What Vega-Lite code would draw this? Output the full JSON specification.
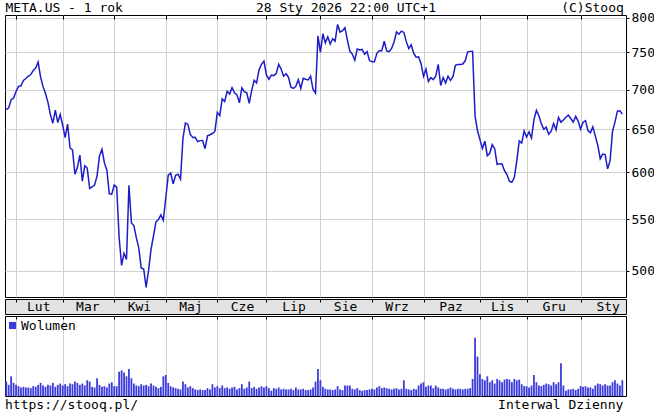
{
"$schema": "https://vega.github.io/schema/vega-lite/v6.json",
"padding": {"left": 2, "top": 0, "right": 0, "bottom": 0},
"background": "white",
"config": {
  "font": "DejaVu Sans Mono",
  "view": {"stroke": "#000000", "strokeWidth": 1},
  "concat": {"spacing": 0},
  "title": {"font": "DejaVu Sans Mono", "fontSize": 13, "fontWeight": "normal", "color": "#000000"},
  "axis": {"labelFont": "DejaVu Sans Mono", "labelFontSize": 13, "labelColor": "#000000", "tickColor": "#000000", "gridColor": "#d0d0d0", "gridWidth": 1, "domain": false, "minExtent": 0, "titleFont": "DejaVu Sans Mono", "titleFontSize": 13, "titleFontWeight": "normal", "titleColor": "#000000"},
  "legend": {"labelFont": "DejaVu Sans Mono", "labelFontSize": 13, "labelColor": "#000000"}
},
"datasets": {
"months": [{"m":"Lut","d":"2025-02-14"},{"m":"Mar","d":"2025-03-17"},{"m":"Kwi","d":"2025-04-15"},{"m":"Maj","d":"2025-05-15"},{"m":"Cze","d":"2025-06-16"},{"m":"Lip","d":"2025-07-17"},{"m":"Sie","d":"2025-08-15"},{"m":"Wrz","d":"2025-09-16"},{"m":"Paz","d":"2025-10-16"},{"m":"Lis","d":"2025-11-14"},{"m":"Gru","d":"2025-12-16"},{"m":"Sty","d":"2026-01-20"}],
"prices": [
{"d":"2025-01-28","c":674.33,"v":22},{"d":"2025-01-29","c":676.49,"v":17},{"d":"2025-01-30","c":687.00,"v":30},{"d":"2025-01-31","c":689.18,"v":20},
{"d":"2025-02-03","c":697.46,"v":17},{"d":"2025-02-04","c":704.19,"v":15},{"d":"2025-02-05","c":704.87,"v":13},{"d":"2025-02-06","c":711.99,"v":14},{"d":"2025-02-07","c":714.52,"v":13},{"d":"2025-02-10","c":717.40,"v":13},{"d":"2025-02-11","c":719.80,"v":12},{"d":"2025-02-12","c":725.38,"v":15},{"d":"2025-02-13","c":728.56,"v":14},{"d":"2025-02-14","c":736.67,"v":17},{"d":"2025-02-18","c":716.37,"v":20},{"d":"2025-02-19","c":703.77,"v":16},{"d":"2025-02-20","c":694.84,"v":14},{"d":"2025-02-21","c":683.55,"v":17},{"d":"2025-02-24","c":668.13,"v":16},{"d":"2025-02-25","c":657.50,"v":20},{"d":"2025-02-26","c":673.70,"v":14},{"d":"2025-02-27","c":658.24,"v":17},{"d":"2025-02-28","c":668.20,"v":19},
{"d":"2025-03-03","c":655.05,"v":16},{"d":"2025-03-04","c":640.00,"v":18},{"d":"2025-03-05","c":656.47,"v":15},{"d":"2025-03-06","c":627.93,"v":19},{"d":"2025-03-07","c":625.66,"v":18},{"d":"2025-03-10","c":597.99,"v":22},{"d":"2025-03-11","c":605.71,"v":20},{"d":"2025-03-12","c":619.56,"v":17},{"d":"2025-03-13","c":590.45,"v":19},{"d":"2025-03-14","c":607.60,"v":16},{"d":"2025-03-17","c":604.90,"v":24},{"d":"2025-03-18","c":582.36,"v":22},{"d":"2025-03-19","c":584.06,"v":14},{"d":"2025-03-20","c":586.00,"v":13},{"d":"2025-03-21","c":596.25,"v":27},{"d":"2025-03-24","c":618.85,"v":17},{"d":"2025-03-25","c":626.31,"v":14},{"d":"2025-03-26","c":610.98,"v":15},{"d":"2025-03-27","c":602.58,"v":13},{"d":"2025-03-28","c":576.74,"v":19},{"d":"2025-03-31","c":576.36,"v":21},
{"d":"2025-04-01","c":586.00,"v":15},{"d":"2025-04-02","c":583.93,"v":15},{"d":"2025-04-03","c":531.62,"v":37},{"d":"2025-04-04","c":504.73,"v":39},{"d":"2025-04-07","c":516.25,"v":36},{"d":"2025-04-08","c":510.45,"v":30},{"d":"2025-04-09","c":585.77,"v":41},{"d":"2025-04-10","c":546.29,"v":27},{"d":"2025-04-11","c":543.57,"v":19},{"d":"2025-04-14","c":531.48,"v":16},{"d":"2025-04-15","c":521.52,"v":15},{"d":"2025-04-16","c":502.31,"v":18},{"d":"2025-04-17","c":501.48,"v":16},{"d":"2025-04-21","c":484.66,"v":17},{"d":"2025-04-22","c":500.28,"v":15},{"d":"2025-04-23","c":520.27,"v":19},{"d":"2025-04-24","c":533.15,"v":16},{"d":"2025-04-25","c":547.27,"v":14},{"d":"2025-04-28","c":549.74,"v":12},{"d":"2025-04-29","c":554.44,"v":14},{"d":"2025-04-30","c":549.00,"v":30},
{"d":"2025-05-01","c":572.21,"v":32},{"d":"2025-05-02","c":597.02,"v":20},{"d":"2025-05-05","c":599.27,"v":15},{"d":"2025-05-06","c":587.31,"v":13},{"d":"2025-05-07","c":596.81,"v":12},{"d":"2025-05-08","c":598.01,"v":11},{"d":"2025-05-09","c":592.49,"v":10},{"d":"2025-05-12","c":639.43,"v":22},{"d":"2025-05-13","c":657.75,"v":18},{"d":"2025-05-14","c":656.03,"v":13},{"d":"2025-05-15","c":643.88,"v":15},{"d":"2025-05-16","c":640.34,"v":12},{"d":"2025-05-19","c":640.43,"v":10},{"d":"2025-05-20","c":635.50,"v":9},{"d":"2025-05-21","c":636.57,"v":10},{"d":"2025-05-22","c":636.80,"v":9},{"d":"2025-05-23","c":627.06,"v":9},{"d":"2025-05-27","c":642.32,"v":12},{"d":"2025-05-28","c":643.58,"v":10},{"d":"2025-05-29","c":645.05,"v":18},{"d":"2025-05-30","c":647.49,"v":13},
{"d":"2025-06-02","c":670.90,"v":15},{"d":"2025-06-03","c":666.85,"v":12},{"d":"2025-06-04","c":687.95,"v":16},{"d":"2025-06-05","c":684.62,"v":12},{"d":"2025-06-06","c":697.71,"v":13},{"d":"2025-06-09","c":694.14,"v":11},{"d":"2025-06-10","c":702.40,"v":13},{"d":"2025-06-11","c":695.80,"v":14},{"d":"2025-06-12","c":693.10,"v":10},{"d":"2025-06-13","c":682.87,"v":12},{"d":"2025-06-16","c":702.12,"v":18},{"d":"2025-06-17","c":697.23,"v":11},{"d":"2025-06-18","c":695.77,"v":13},{"d":"2025-06-20","c":682.35,"v":22},{"d":"2025-06-23","c":698.53,"v":12},{"d":"2025-06-24","c":712.20,"v":14},{"d":"2025-06-25","c":708.68,"v":11},{"d":"2025-06-26","c":726.09,"v":13},{"d":"2025-06-27","c":733.63,"v":15},{"d":"2025-06-30","c":738.09,"v":13},
{"d":"2025-07-01","c":719.22,"v":15},{"d":"2025-07-02","c":713.57,"v":12},{"d":"2025-07-03","c":719.01,"v":8},{"d":"2025-07-07","c":718.35,"v":12},{"d":"2025-07-08","c":720.92,"v":11},{"d":"2025-07-09","c":733.50,"v":13},{"d":"2025-07-10","c":727.20,"v":10},{"d":"2025-07-11","c":717.51,"v":11},{"d":"2025-07-14","c":720.85,"v":10},{"d":"2025-07-15","c":716.00,"v":10},{"d":"2025-07-16","c":702.91,"v":11},{"d":"2025-07-17","c":701.41,"v":9},{"d":"2025-07-18","c":704.28,"v":13},{"d":"2025-07-21","c":712.97,"v":10},{"d":"2025-07-22","c":701.35,"v":10},{"d":"2025-07-23","c":714.80,"v":11},{"d":"2025-07-24","c":713.58,"v":9},{"d":"2025-07-25","c":712.68,"v":9},{"d":"2025-07-28","c":717.63,"v":10},{"d":"2025-07-29","c":700.00,"v":13},{"d":"2025-07-30","c":695.21,"v":22},{"d":"2025-07-31","c":773.44,"v":41},
{"d":"2025-08-01","c":750.01,"v":24},{"d":"2025-08-04","c":776.37,"v":14},{"d":"2025-08-05","c":763.46,"v":11},{"d":"2025-08-06","c":771.99,"v":10},{"d":"2025-08-07","c":761.83,"v":10},{"d":"2025-08-08","c":769.30,"v":9},{"d":"2025-08-11","c":765.87,"v":10},{"d":"2025-08-12","c":790.00,"v":15},{"d":"2025-08-13","c":778.92,"v":10},{"d":"2025-08-14","c":780.97,"v":9},{"d":"2025-08-15","c":785.23,"v":16},{"d":"2025-08-18","c":767.37,"v":16},{"d":"2025-08-19","c":751.48,"v":16},{"d":"2025-08-20","c":747.72,"v":11},{"d":"2025-08-21","c":739.10,"v":10},{"d":"2025-08-22","c":754.79,"v":12},{"d":"2025-08-25","c":753.30,"v":9},{"d":"2025-08-26","c":754.10,"v":8},{"d":"2025-08-27","c":747.38,"v":9},{"d":"2025-08-28","c":751.11,"v":9},{"d":"2025-08-29","c":738.70,"v":10},
{"d":"2025-09-02","c":737.05,"v":11},{"d":"2025-09-03","c":737.10,"v":10},{"d":"2025-09-04","c":748.65,"v":13},{"d":"2025-09-05","c":752.45,"v":15},{"d":"2025-09-08","c":752.30,"v":12},{"d":"2025-09-09","c":765.70,"v":13},{"d":"2025-09-10","c":751.98,"v":12},{"d":"2025-09-11","c":751.00,"v":11},{"d":"2025-09-12","c":755.59,"v":10},{"d":"2025-09-15","c":764.70,"v":11},{"d":"2025-09-16","c":779.00,"v":12},{"d":"2025-09-17","c":775.72,"v":10},{"d":"2025-09-18","c":780.25,"v":11},{"d":"2025-09-19","c":778.38,"v":24},{"d":"2025-09-22","c":765.16,"v":11},{"d":"2025-09-23","c":755.40,"v":10},{"d":"2025-09-24","c":760.66,"v":9},{"d":"2025-09-25","c":748.91,"v":11},{"d":"2025-09-26","c":743.40,"v":10},{"d":"2025-09-29","c":743.85,"v":16},{"d":"2025-09-30","c":734.38,"v":19},
{"d":"2025-10-01","c":717.34,"v":21},{"d":"2025-10-02","c":727.05,"v":14},{"d":"2025-10-03","c":710.56,"v":16},{"d":"2025-10-06","c":715.66,"v":16},{"d":"2025-10-07","c":713.08,"v":12},{"d":"2025-10-08","c":717.84,"v":16},{"d":"2025-10-09","c":733.51,"v":13},{"d":"2025-10-10","c":705.30,"v":11},{"d":"2025-10-13","c":715.70,"v":11},{"d":"2025-10-14","c":708.65,"v":10},{"d":"2025-10-15","c":717.55,"v":11},{"d":"2025-10-16","c":712.07,"v":13},{"d":"2025-10-17","c":716.91,"v":11},{"d":"2025-10-20","c":732.17,"v":10},{"d":"2025-10-21","c":733.27,"v":11},{"d":"2025-10-22","c":733.41,"v":11},{"d":"2025-10-23","c":734.00,"v":10},{"d":"2025-10-24","c":738.36,"v":11},{"d":"2025-10-27","c":750.82,"v":11},{"d":"2025-10-28","c":751.44,"v":12},{"d":"2025-10-29","c":751.67,"v":26},{"d":"2025-10-30","c":666.47,"v":89},{"d":"2025-10-31","c":648.35,"v":60},
{"d":"2025-11-03","c":637.71,"v":33},{"d":"2025-11-04","c":627.32,"v":26},{"d":"2025-11-05","c":635.95,"v":24},{"d":"2025-11-06","c":618.94,"v":30},{"d":"2025-11-07","c":621.71,"v":21},{"d":"2025-11-10","c":631.76,"v":24},{"d":"2025-11-11","c":627.08,"v":19},{"d":"2025-11-12","c":609.01,"v":26},{"d":"2025-11-13","c":609.89,"v":24},{"d":"2025-11-14","c":609.46,"v":21},{"d":"2025-11-17","c":602.01,"v":25},{"d":"2025-11-18","c":597.69,"v":26},{"d":"2025-11-19","c":590.32,"v":25},{"d":"2025-11-20","c":589.15,"v":21},{"d":"2025-11-21","c":594.25,"v":26},{"d":"2025-11-24","c":613.05,"v":24},{"d":"2025-11-25","c":636.22,"v":25},{"d":"2025-11-26","c":633.61,"v":18},{"d":"2025-11-28","c":647.95,"v":15},
{"d":"2025-12-01","c":640.87,"v":15},{"d":"2025-12-02","c":647.10,"v":13},{"d":"2025-12-03","c":639.60,"v":16},{"d":"2025-12-04","c":661.53,"v":32},{"d":"2025-12-05","c":673.42,"v":21},{"d":"2025-12-08","c":666.80,"v":16},{"d":"2025-12-09","c":656.96,"v":15},{"d":"2025-12-10","c":650.13,"v":17},{"d":"2025-12-11","c":652.71,"v":19},{"d":"2025-12-12","c":644.23,"v":18},{"d":"2025-12-15","c":647.51,"v":16},{"d":"2025-12-16","c":657.15,"v":21},{"d":"2025-12-17","c":649.50,"v":18},{"d":"2025-12-18","c":664.45,"v":21},{"d":"2025-12-19","c":658.77,"v":50},{"d":"2025-12-22","c":661.50,"v":16},{"d":"2025-12-23","c":664.94,"v":8},{"d":"2025-12-24","c":667.55,"v":10},{"d":"2025-12-26","c":663.29,"v":10},{"d":"2025-12-29","c":658.69,"v":11},{"d":"2025-12-30","c":665.95,"v":9},{"d":"2025-12-31","c":660.09,"v":11},
{"d":"2026-01-02","c":650.41,"v":15},{"d":"2026-01-05","c":658.79,"v":14},{"d":"2026-01-06","c":660.62,"v":15},{"d":"2026-01-07","c":648.69,"v":13},{"d":"2026-01-08","c":646.06,"v":13},{"d":"2026-01-09","c":653.06,"v":11},{"d":"2026-01-12","c":641.97,"v":16},{"d":"2026-01-13","c":631.09,"v":19},{"d":"2026-01-14","c":615.52,"v":18},{"d":"2026-01-15","c":620.80,"v":16},{"d":"2026-01-16","c":620.25,"v":18},{"d":"2026-01-20","c":604.12,"v":16},{"d":"2026-01-21","c":612.96,"v":16},{"d":"2026-01-22","c":647.63,"v":21},{"d":"2026-01-23","c":658.76,"v":24},{"d":"2026-01-26","c":672.36,"v":19},{"d":"2026-01-27","c":672.97,"v":16},{"d":"2026-01-28","c":668.73,"v":24}
]
},
"resolve": {"scale": {"x": "shared"}, "legend": {"color": "independent"}},
"vconcat": [
{
  "width": 621, "height": 282,
  "data": {"name": "prices"},
  "mark": {"type": "line", "color": "#1c1cc8", "strokeWidth": 1.5},
  "encoding": {
    "x": {"field": "d", "type": "ordinal", "scale": {"type": "point", "padding": 3.33, "align": 0.25},
          "axis": {"orient": "top", "title": "META.US - 1 rok\u00a0\u00a0\u00a0\u00a0\u00a0\u00a0\u00a0\u00a0\u00a0\u00a0\u00a0\u00a0\u00a0\u00a0\u00a0\u00a0\u00a028 Sty 2026 22:00 UTC+1\u00a0\u00a0\u00a0\u00a0\u00a0\u00a0\u00a0\u00a0\u00a0\u00a0\u00a0\u00a0\u00a0\u00a0\u00a0\u00a0(C)Stooq", "titleAnchor": "start", "titleAlign": "left", "titleBaseline": "alphabetic", "titlePadding": 3.5, "titleLimit": 0, "values": ["2025-02-03","2025-03-03","2025-04-01","2025-05-01","2025-06-02","2025-07-01","2025-08-01","2025-09-02","2025-10-01","2025-11-03","2025-12-01","2026-01-02"], "labels": false, "grid": true, "ticks": true, "tickSize": -4}},
    "y": {"field": "c", "type": "quantitative", "scale": {"type": "log", "domain": [476, 804], "nice": false, "zero": false},
          "axis": {"orient": "right", "title": null, "values": [500, 550, 600, 650, 700, 750, 800], "grid": true, "tickSize": 3, "labelPadding": 2}}
  }
},
{
  "width": 621, "height": 15,
  "data": {"name": "months"},
  "view": {"fill": "#e3e3e3", "stroke": "#000000"},
  "mark": {"type": "text", "font": "DejaVu Sans Mono", "fontSize": 13, "baseline": "middle", "align": "center", "dx": 0.6, "dy": 0.5, "color": "#000000"},
  "encoding": {
    "x": {"field": "d", "type": "ordinal", "scale": {"type": "point", "padding": 3.33, "align": 0.25},
          "axis": {"orient": "top", "title": null, "values": ["2025-02-03","2025-03-03","2025-04-01","2025-05-01","2025-06-02","2025-07-01","2025-08-01","2025-09-02","2025-10-01","2025-11-03","2025-12-01","2026-01-02"], "labels": false, "grid": false, "ticks": true, "tickSize": -3}},
    "text": {"field": "m"}
  }
},
{
  "width": 621, "height": 80,
  "data": {"name": "prices"},
  "title": {"text": "https://stooq.pl/\u00a0\u00a0\u00a0\u00a0\u00a0\u00a0\u00a0\u00a0\u00a0\u00a0\u00a0\u00a0\u00a0\u00a0\u00a0\u00a0\u00a0\u00a0\u00a0\u00a0\u00a0\u00a0\u00a0\u00a0\u00a0\u00a0\u00a0\u00a0\u00a0\u00a0\u00a0\u00a0\u00a0\u00a0\u00a0\u00a0\u00a0\u00a0\u00a0\u00a0\u00a0\u00a0\u00a0\u00a0\u00a0\u00a0Interwal Dzienny", "orient": "bottom", "anchor": "start", "frame": "group", "baseline": "alphabetic", "offset": 13},
  "mark": {"type": "bar", "size": 1.8, "color": "#3c3cdc"},
  "encoding": {
    "x": {"field": "d", "type": "ordinal", "scale": {"type": "point", "padding": 3.33, "align": 0.25},
          "axis": {"orient": "top", "title": null, "values": ["2025-02-03","2025-03-03","2025-04-01","2025-05-01","2025-06-02","2025-07-01","2025-08-01","2025-09-02","2025-10-01","2025-11-03","2025-12-01","2026-01-02"], "labels": false, "grid": true, "ticks": true, "tickSize": -3}},
    "y": {"field": "v", "type": "quantitative", "scale": {"domain": [0, 122], "nice": false, "zero": true}, "axis": null},
    "color": {"datum": "Wolumen", "type": "nominal", "scale": {"range": ["#3c3cdc"]},
              "legend": {"orient": "none", "legendX": 1, "legendY": 3, "title": null, "symbolType": "square", "symbolSize": 50, "symbolFillColor": "#1414c8", "symbolStrokeWidth": 0, "padding": 0, "labelOffset": 2}}
  }
}
]
}
